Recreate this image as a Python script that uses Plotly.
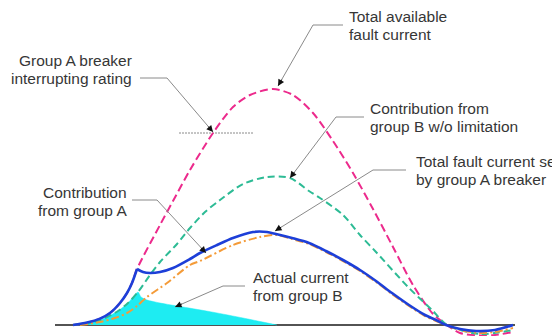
import math
import plotly.graph_objects as go

# Fault current waveforms (time in ms, current in kA)
t_total = [0, 0.3, 0.675, 0.925, 1.175, 1.35, 1.475, 1.6, 2.175, 2.5, 2.925, 3.5, 4.0, 4.425,
           5.0, 5.5, 6.0, 6.5, 7.0, 7.5, 8.0, 8.5, 9.0, 9.35, 9.675, 10.175, 10.55, 11.0]
i_total = [0, 0.4, 1.6, 3.0, 5.5, 8.0, 10.5, 14.0, 25.0, 31.0, 38.75, 48.0, 54.5, 57.5,
           59.0, 57.5, 53.0, 46.0, 38.0, 29.0, 19.5, 10.0, 2.75, 0, -2.0, -2.6, -2.5, -1.75]

t_b_unlim = [0, 0.425, 0.8, 1.125, 1.375, 1.625, 1.925, 2.175, 2.6, 2.925, 3.3, 3.675, 4.25,
             4.85, 5.425, 5.9, 6.175, 6.75, 7.175, 7.575, 8.4, 9.0, 9.35, 10.175, 11.0]
i_b_unlim = [0, 0.5, 1.75, 3.5, 5.5, 8.25, 12.5, 15.75, 20.25, 24.25, 28.25, 31.25, 35.25,
             37.0, 36.75, 33.5, 31.75, 27.5, 22.5, 18.25, 9.25, 3.5, 0, -2.25, -1.25]

t_group_a = [0.175, 0.675, 1.05, 1.35, 1.6, 1.85, 2.35, 2.925, 3.175, 4.0, 4.675, 5.1, 5.475,
             5.9, 6.325, 6.75, 7.175, 7.575, 7.975, 8.4, 8.8, 9.075, 9.35, 9.675, 10.175,
             10.55, 11.0]
i_group_a = [0, 0.75, 1.75, 3.0, 4.75, 7.0, 10.5, 15.0, 16.0, 20.0, 22.0, 22.5, 21.5,
             20.25, 18.25, 16.0, 13.5, 10.75, 7.75, 4.75, 2.25, 1.0, -0.1, -1.25, -2.0,
             -1.75, -0.75]

# Current through the group A breaker: rise, then limited after the kink
t_seen_rise = [0, 0.35, 0.675, 0.925, 1.175, 1.35, 1.475, 1.6]
i_seen_rise = [0, 0.6, 1.6, 3.0, 5.5, 8.0, 10.5, 14.0]
t_seen = [1.6, 1.75, 1.925, 2.175, 2.5, 2.925, 3.175, 3.6, 4.0, 4.5, 4.85, 5.075, 5.475,
          5.9, 6.325, 6.75, 7.175, 7.575, 7.975, 8.4, 8.8, 9.075, 9.325, 9.675, 10.075,
          10.55, 11.0]
i_seen = [14.0, 13.25, 13.0, 13.25, 14.25, 16.5, 18.0, 20.0, 21.75, 23.25, 23.25, 22.75,
          21.75, 20.5, 18.5, 16.25, 13.75, 11.0, 8.0, 5.0, 2.5, 1.25, 0, -1.0, -1.5,
          -1.25, 0]

t_b_actual = [0, 0.425, 0.8, 1.125, 1.375, 1.625, 1.7, 1.85, 2.175, 2.75, 3.5, 4.25, 5.1]
i_b_actual = [0, 0.5, 1.75, 3.5, 5.5, 8.25, 7.0, 6.25, 5.5, 4.5, 3.2, 1.75, 0]

rating_kA = 48.0
rating_t = [2.65, 4.525]
axis_t = [-0.45, 11.05]

PINK = "#EC2A8C"
TEAL = "#2DBB95"
ORANGE = "#F49B38"
BLUE = "#1D3FD8"
CYAN = "#1EECF2"
GREY = "#8A8A8A"
TEXT = "#363636"

X_RANGE = [-1.825, 11.975]
Y_RANGE = [-2.75, 81.25]
W, H = 552, 336

fig = go.Figure()

fig.add_trace(go.Scatter(x=t_b_actual, y=i_b_actual, mode="lines", fill="tozeroy",
                         fillcolor=CYAN, line=dict(color=CYAN, width=0.5, shape="spline",
                                                   smoothing=0.6)))
fig.add_trace(go.Scatter(x=rating_t, y=[rating_kA, rating_kA], mode="lines",
                         line=dict(color=GREY, width=1, dash="2px,1px")))
fig.add_trace(go.Scatter(x=t_total, y=i_total, mode="lines",
                         line=dict(color=PINK, width=2, dash="8px,4px", shape="spline",
                                   smoothing=0.8)))
fig.add_trace(go.Scatter(x=t_b_unlim, y=i_b_unlim, mode="lines",
                         line=dict(color=TEAL, width=2, dash="7px,4px", shape="spline",
                                   smoothing=0.8)))
fig.add_trace(go.Scatter(x=t_group_a, y=i_group_a, mode="lines",
                         line=dict(color=ORANGE, width=2, dash="8px,3px,2px,3px",
                                   shape="spline", smoothing=0.8)))
fig.add_trace(go.Scatter(x=t_seen_rise, y=i_seen_rise, mode="lines",
                         line=dict(color=BLUE, width=2.6, shape="spline", smoothing=0.8)))
fig.add_trace(go.Scatter(x=t_seen, y=i_seen, mode="lines",
                         line=dict(color=BLUE, width=2.6, shape="spline", smoothing=0.8)))

# time axis
fig.add_shape(type="line", x0=axis_t[0], x1=axis_t[1], y0=0, y1=0,
              line=dict(color="#1a1a1a", width=1.5), layer="below")

px_x = W / (X_RANGE[1] - X_RANGE[0])
px_y = H / (Y_RANGE[1] - Y_RANGE[0])
LINE_GAP = 18  # px between the two text lines of a callout

# callouts: text lines, anchor, text position, leader path (start, corner, tip)
callouts = [
    (("Group A breaker", "interrupting rating"), "right", (1.52, 64.0),
     [(1.675, 61.75), (2.35, 61.75), (3.5, 48.25)]),
    (("Total available", "fault current"), "left", (6.85, 75.0),
     [(6.75, 75.0), (6.0, 75.0), (5.125, 59.75)]),
    (("Contribution from", "group B w/o limitation"), "left", (7.38, 52.0),
     [(7.275, 52.0), (6.575, 52.0), (5.425, 36.75)]),
    (("Total fault current seen", "by group A breaker"), "left", (8.53, 38.75),
     [(8.325, 38.75), (7.5, 38.75), (5.05, 23.5)]),
    (("Contribution", "from group A"), "right", (1.4, 31.0),
     [(1.475, 31.25), (2.1, 31.25), (3.325, 18.0)]),
    (("Actual current", "from group B"), "left", (4.45, 9.75),
     [(4.3, 9.75), (3.75, 9.75), (2.55, 4.5)]),
]

annotations = []
for lines, anchor, (tx, ty), path in callouts:
    for k, line in enumerate(lines):
        offset = (k - (len(lines) - 1) / 2) * LINE_GAP / px_y
        annotations.append(dict(x=tx, y=ty - offset, xref="x", yref="y", text=line,
                                showarrow=False, xanchor=anchor, yanchor="middle",
                                font=dict(family="Liberation Sans, Arial", size=15.5,
                                          color=TEXT)))
    d = "M {} {} L {} {} L {} {}".format(path[0][0], path[0][1], path[1][0], path[1][1],
                                         path[2][0], path[2][1])
    fig.add_shape(type="path", path=d, line=dict(color=GREY, width=1))
    # small black arrowhead on the tip of the leader
    (cx, cy), (tipx, tipy) = path[1], path[2]
    dx = (cx - tipx) * px_x
    dy = -(cy - tipy) * px_y
    L = math.hypot(dx, dy)
    annotations.append(dict(x=tipx, y=tipy, xref="x", yref="y", text="", showarrow=True,
                            ax=dx / L * 9, ay=dy / L * 9, arrowhead=2, arrowsize=1.3,
                            arrowwidth=1, arrowcolor="#111111", standoff=0))

fig.update_layout(
    width=W, height=H, margin=dict(l=0, r=0, t=0, b=0),
    paper_bgcolor="white", plot_bgcolor="white", showlegend=False,
    xaxis=dict(range=X_RANGE, visible=False, fixedrange=True),
    yaxis=dict(range=Y_RANGE, visible=False, fixedrange=True),
    annotations=annotations,
)

fig.write_html("out.html")
